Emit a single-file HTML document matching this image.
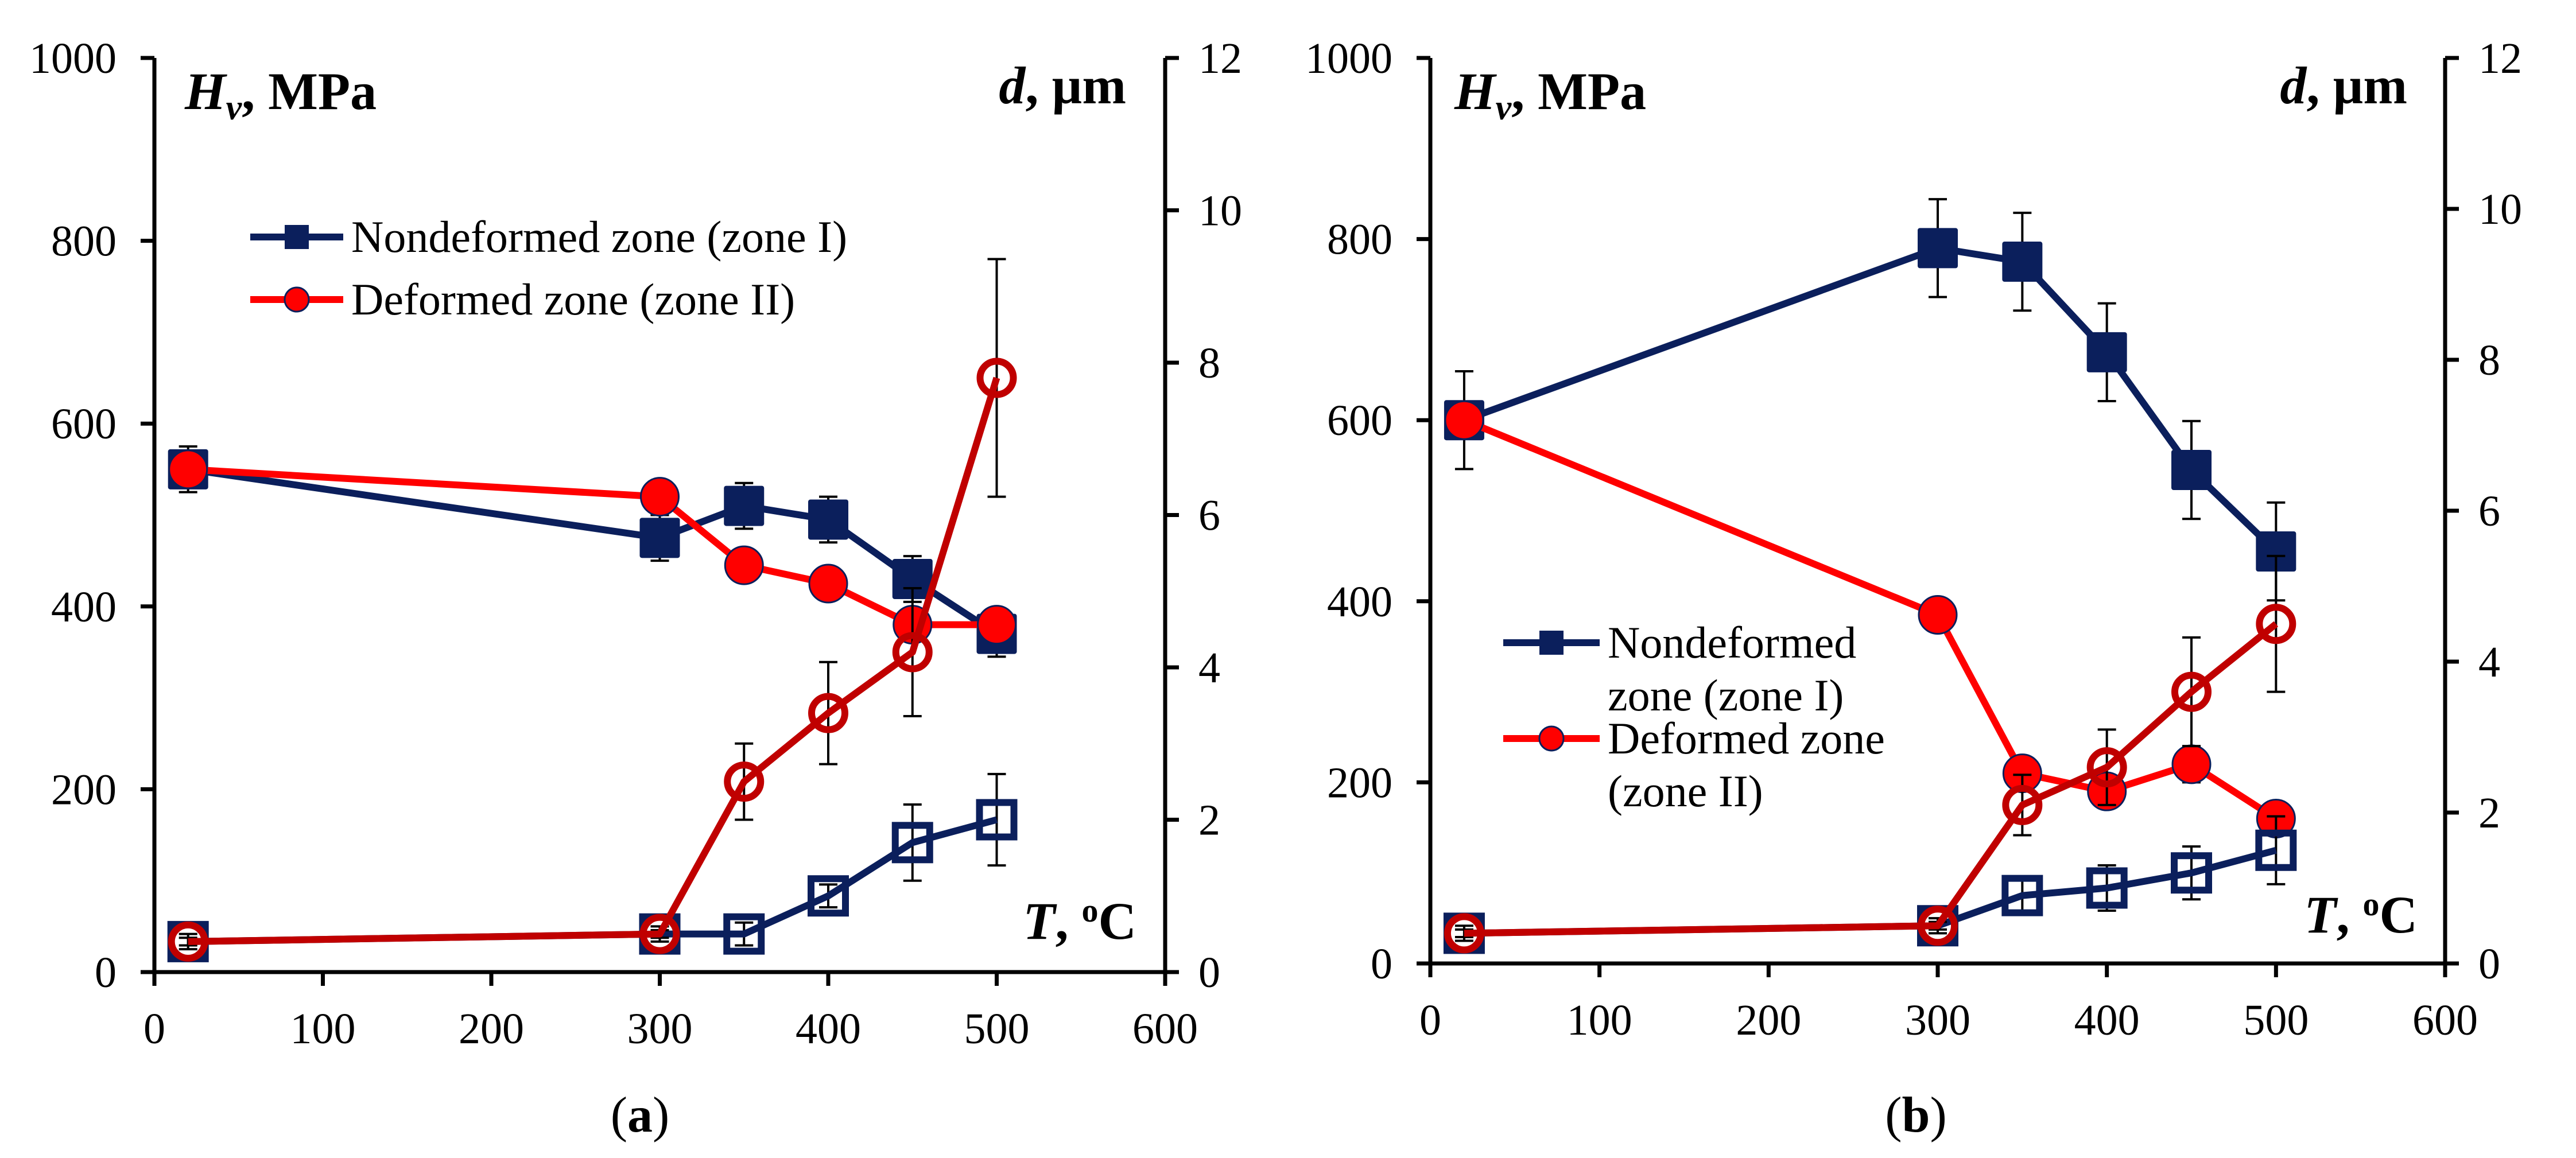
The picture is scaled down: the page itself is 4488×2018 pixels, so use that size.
<!DOCTYPE html>
<html><head><meta charset="utf-8"><style>
html,body{margin:0;padding:0;background:#fff;}
svg{display:block;font-family:"Liberation Serif",serif;}
</style></head><body>
<svg id="fig" width="4488" height="2018" viewBox="0 0 4488 2018" xmlns="http://www.w3.org/2000/svg"></svg>
<script>
const temps = [20, 300, 350, 400, 450, 500];
const xTicks = [0, 100, 200, 300, 400, 500, 600];
const yTicksL = [0, 200, 400, 600, 800, 1000];
const yTicksR = [0, 2, 4, 6, 8, 10, 12];
// panel a
const aHvNon = [550, 475, 510, 495, 430, 370];
const aHvNonErr = [25, 25, 25, 25, 25, 25];
const aHvDef = [550, 520, 445, 425, 380, 380];
const aHvDefErr = [10, 10, 10, 10, 10, 10];
const aDNon = [0.4, 0.5, 0.5, 1.0, 1.7, 2.0];
const aDNonErr = [0.1, 0.1, 0.15, 0.15, 0.5, 0.6];
const aDDef = [0.4, 0.5, 2.5, 3.4, 4.2, 7.8];
const aDDefErr = [0.05, 0.05, 0.5, 0.67, 0.84, 1.56];
// panel b
const bHvNon = [600, 790, 775, 675, 545, 455];
const bHvNonErr = [54, 54, 54, 54, 54, 54];
const bHvDef = [600, 385, 210, 190, 220, 160];
const bHvDefErr = [10, 10, 15, 15, 20, 15];
const bDNon = [0.4, 0.5, 0.9, 1.0, 1.2, 1.5];
const bDNonErr = [0.1, 0.1, 0.25, 0.3, 0.35, 0.45];
const bDDef = [0.4, 0.5, 2.1, 2.6, 3.6, 4.5];
const bDDefErr = [0.05, 0.05, 0.4, 0.5, 0.72, 0.9];

const NS = "http://www.w3.org/2000/svg";
const svg = document.getElementById('fig');
const NAVY = "#0b1f5c", RED = "#ff0000", DRED = "#c00000";
function mk(tag, attrs, parent) {
  const e = document.createElementNS(NS, tag);
  for (const k in attrs) e.setAttribute(k, attrs[k]);
  (parent || svg).appendChild(e);
  return e;
}
function panel(P, id) {
  const g = mk('g', {});
  
  
  const sx = v => P.x0 + (v / 600) * (P.x1 - P.x0);
  const syL = v => P.y0 - (v / 1000) * (P.y0 - P.yt);
  const syR = v => P.y0 - (v / 12) * (P.y0 - P.yt);
  const ax = mk('g', {stroke: '#000', 'stroke-width': 7}, g);
  
  
  mk('line', {x1: P.x0, y1: P.yt, x2: P.x0, y2: P.y0}, ax);
  mk('line', {x1: P.x1, y1: P.yt, x2: P.x1, y2: P.y0}, ax);
  mk('line', {x1: P.x0 - 24, y1: P.y0, x2: P.x1 + 24, y2: P.y0}, ax);
  xTicks.forEach(t => {
    mk('line', {x1: sx(t), y1: P.y0, x2: sx(t), y2: P.y0 + 24}, ax);
    const tx = mk('text', {x: sx(t), y: P.y0 + 124, 'font-size': 76, 'text-anchor': 'middle'}, g);
    tx.textContent = t;
    
    
  });
  yTicksL.forEach(t => {
    mk('line', {x1: P.x0 - 24, y1: syL(t), x2: P.x0, y2: syL(t)}, ax);
    const tx = mk('text', {x: P.x0 - 66, y: syL(t) + 26, 'font-size': 76, 'text-anchor': 'end'}, g);
    tx.textContent = t;
    
    
  });
  yTicksR.forEach(t => {
    mk('line', {x1: P.x1, y1: syR(t), x2: P.x1 + 24, y2: syR(t)}, ax);
    const tx = mk('text', {x: P.x1 + 58, y: syR(t) + 26, 'font-size': 76}, g);
    tx.textContent = t;
    
    
  });
  function series(vals, errs, sy, color, marker, filled, name) {
    const sg = mk('g', {}, g);
    
    
    vals.forEach((v, i) => {
      const x = sx(temps[i]);
      const a = sy(v + errs[i]), b = sy(v - errs[i]);
      mk('line', {x1: x, y1: a, x2: x, y2: b, stroke: '#000', 'stroke-width': 4}, sg);
      mk('line', {x1: x - 16, y1: a, x2: x + 16, y2: a, stroke: '#000', 'stroke-width': 4}, sg);
      mk('line', {x1: x - 16, y1: b, x2: x + 16, y2: b, stroke: '#000', 'stroke-width': 4}, sg);
    });
    const pts = vals.map((v, i) => sx(temps[i]) + ',' + sy(v)).join(' ');
    mk('polyline', {points: pts, fill: 'none', stroke: color, 'stroke-width': 12, 'stroke-linejoin': 'round'}, sg);
    vals.forEach((v, i) => {
      const x = sx(temps[i]), y = sy(v);
      let m;
      if (marker === 'sq') {
        if (filled) m = mk('rect', {x: x - 35, y: y - 35, width: 70, height: 70, rx: 4, fill: color}, sg);
        else m = mk('rect', {x: x - 30, y: y - 30, width: 60, height: 60, fill: 'none', stroke: color, 'stroke-width': 12}, sg);
      } else {
        if (filled) m = mk('circle', {cx: x, cy: y, r: 33, fill: color, stroke: NAVY, 'stroke-width': 3}, sg);
        else m = mk('circle', {cx: x, cy: y, r: 29, fill: 'none', stroke: color, 'stroke-width': 12}, sg);
      }
      
      
    });
  }
  series(P.hvNon, P.hvNonErr, syL, NAVY, 'sq', true, 'series-hv-nondeformed');
  series(P.hvDef, P.hvDefErr, syL, RED, 'ci', true, 'series-hv-deformed');
  series(P.dNon, P.dNonErr, syR, NAVY, 'sq', false, 'series-d-nondeformed');
  series(P.dDef, P.dDefErr, syR, DRED, 'ci', false, 'series-d-deformed');
  const hv = mk('text', {x: P.hvX, y: 190, 'font-size': 92, 'font-weight': 'bold'}, g);
  hv.innerHTML = '<tspan font-style="italic">H</tspan><tspan font-style="italic" font-size="62" dy="18">v</tspan><tspan dy="-18">, MPa</tspan>';
  
  
  const d = mk('text', {x: P.dX, y: 180, 'font-size': 92, 'font-weight': 'bold', 'text-anchor': 'end'}, g);
  d.innerHTML = '<tspan font-style="italic">d</tspan>, µm';
  
  
  const T = mk('text', {x: P.tX, y: P.tY, 'font-size': 92, 'font-weight': 'bold', 'text-anchor': 'end'}, g);
  T.innerHTML = '<tspan font-style="italic">T</tspan>, <tspan font-size="58" dy="-30">o</tspan><tspan dy="30">C</tspan>';
  
  
  const cap = mk('text', {x: P.capX, y: 1972, 'font-size': 88, 'text-anchor': 'middle'}, g);
  cap.innerHTML = '(<tspan font-weight="bold">' + id + '</tspan>)';
  
  
  const lg = mk('g', {}, g);
  
  
  P.legend.forEach(e => {
    mk('line', {x1: P.lx1, y1: e.y, x2: P.lx2, y2: e.y, stroke: e.c, 'stroke-width': 12}, lg);
    const mx = (P.lx1 + P.lx2) / 2;
    if (e.m === 'sq') mk('rect', {x: mx - 21, y: e.y - 21, width: 42, height: 42, fill: e.c}, lg);
    else mk('circle', {cx: mx, cy: e.y, r: 21, fill: e.c, stroke: NAVY, 'stroke-width': 3}, lg);
    e.lines.forEach((t, k) => {
      const tx = mk('text', {x: P.lx2 + 14, y: e.y + 26 + k * 92, 'font-size': 78}, lg);
      tx.textContent = t;
      
      
    });
  });
}
panel({x0: 269, x1: 2030, y0: 1694, yt: 101,
  hvNon: aHvNon, hvNonErr: aHvNonErr, hvDef: aHvDef, hvDefErr: aHvDefErr,
  dNon: aDNon, dNonErr: aDNonErr, dDef: aDDef, dDefErr: aDDefErr,
  hvX: 322, dX: 1962, tX: 1980, tY: 1636, capX: 1115,
  lx1: 436, lx2: 598,
  legend: [{y: 413, c: NAVY, m: 'sq', lines: ['Nondeformed zone (zone I)']},
           {y: 522, c: RED, m: 'ci', lines: ['Deformed zone (zone II)']}]}, 'a');
panel({x0: 2492, x1: 4260, y0: 1679, yt: 101,
  hvNon: bHvNon, hvNonErr: bHvNonErr, hvDef: bHvDef, hvDefErr: bHvDefErr,
  dNon: bDNon, dNonErr: bDNonErr, dDef: bDDef, dDefErr: bDDefErr,
  hvX: 2534, dX: 4194, tX: 4212, tY: 1625, capX: 3338,
  lx1: 2619, lx2: 2787,
  legend: [{y: 1120, c: NAVY, m: 'sq', lines: ['Nondeformed', 'zone (zone I)']},
           {y: 1287, c: RED, m: 'ci', lines: ['Deformed zone', '(zone II)']}]}, 'b');
</script>
</body></html>
